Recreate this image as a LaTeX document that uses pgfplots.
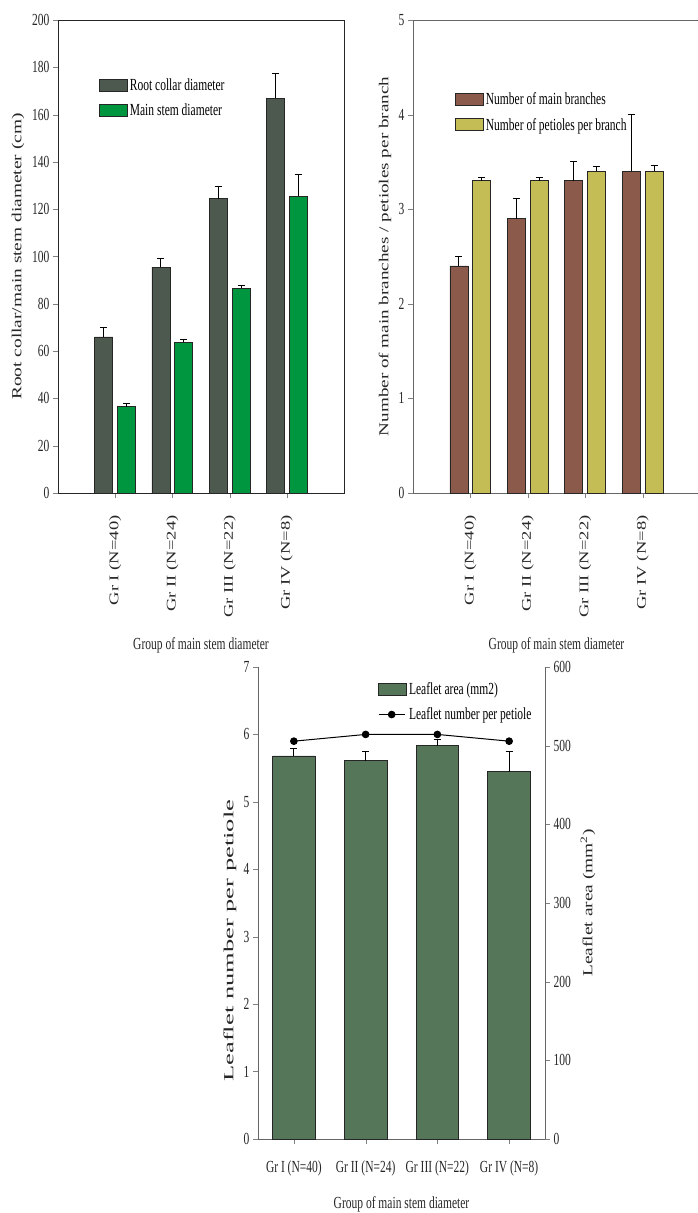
\documentclass[border=0pt]{standalone}
\usepackage{fontspec}
\setmainfont{Liberation Serif}[FakeStretch=0.68]
\newfontfamily\rotfont{Liberation Serif}[FakeStretch=1.4]
\newfontfamily\rotwidefont{Liberation Serif}[FakeStretch=1.9]
\usepackage{pgfplots}
\pgfplotsset{compat=1.18}
\definecolor{cdark}{HTML}{4D594E}
\definecolor{cgreen}{HTML}{009640}
\definecolor{cbrown}{HTML}{8B5A4A}
\definecolor{colive}{HTML}{C4BD55}
\definecolor{cbot}{HTML}{56765A}
\newcommand\mfs{\fontsize{17}{19}\selectfont}
\pgfplotsset{
  mybox/.style={legend image code/.code={\draw[##1] (0bp,-6bp) rectangle (28bp,6bp);}},
  myline/.style={legend image code/.code={\draw[mark repeat=2,mark phase=2,##1] plot coordinates {(0bp,0bp) (13bp,0bp) (26bp,0bp)};}},
  myerr/.style={error bars/y dir=plus, error bars/y explicit,
    error bars/error bar style={line width=1bp, black},
    error bars/error mark options={rotate=90, black, mark size=3.5bp, line width=1bp}},
  mybar/.style={ybar, bar width=18bp, bar shift=0bp, draw=black!85, line width=0.8bp, mybox, myerr},
  common/.style={scale only axis, tick align=outside, major tick length=5bp,
    xtick pos=bottom, ytick pos=left,
    /pgf/number format/assume math mode=true,
    ticklabel style={font=\mfs, text=black!85},
    xtick={0,1,2,3},
    xticklabels={Gr I (N=40),Gr II (N=24),Gr III (N=22),Gr IV (N=8)},
    legend cell align=left,
    label style={text=black!85},
  },
  toprow/.style={common, width=286bp, height=473bp, xmin=-1, xmax=4, ymin=0,
    xticklabel style={rotate=90, anchor=east, font=\rotfont\fontsize{13.3}{15}\selectfont},
    xticklabel shift=14bp,
    xlabel={Group of main stem diameter},
    xlabel style={at={(axis description cs:0.5,-0.323)}, anchor=center, font=\mfs},
    legend style={draw=none, fill=none, font=\mfs, row sep=8bp, inner sep=0pt,
      anchor=north west, cells={anchor=west}},
  },
}
\begin{document}
\begin{tikzpicture}
% ---------- top left ----------
\begin{axis}[toprow, at={(58bp,-20bp)}, anchor=north west,
  ymax=200, ytick={0,20,...,200},
  axis line style={black!85, line width=1bp},
  ylabel={Root collar/main stem diameter (cm)},
  ylabel style={at={(axis description cs:-0.14,0.5)}, anchor=center, font=\rotfont\fontsize{13.9}{15}\selectfont},
  legend style={at={(axis description cs:0.143,0.881)}},
]
\addplot[mybar, fill=cdark] coordinates {
 (-0.2,66) +- (0,4) (0.8,95.5) +- (0,3.5) (1.8,124.5) +- (0,5) (2.8,167) +- (0,10.5)};
\addlegendentry{Root collar diameter}
\addplot[mybar, fill=cgreen] coordinates {
 (0.2,36.5) +- (0,1.5) (1.2,63.7) +- (0,1.3) (2.2,86.5) +- (0,1.3) (3.2,125.5) +- (0,9)};
\addlegendentry{Main stem diameter}
\end{axis}
% ---------- top right ----------
\begin{axis}[toprow, at={(413bp,-20bp)}, anchor=north west, width=287bp,
  ymax=5, ytick={0,1,...,5},
  axis line style={black!60, line width=1bp},
  ylabel={Number of main branches / petioles per branch},
  ylabel style={at={(axis description cs:-0.0976,0.5)}, anchor=center, font=\rotfont\fontsize{13.7}{15}\selectfont},
  legend style={at={(axis description cs:0.146,0.851)}},
]
\addplot[mybar, fill=cbrown] coordinates {
 (-0.2,2.4) +- (0,0.1) (0.8,2.9) +- (0,0.21) (1.8,3.3) +- (0,0.2) (2.8,3.4) +- (0,0.6)};
\addlegendentry{Number of main branches}
\addplot[mybar, fill=colive] coordinates {
 (0.2,3.3) +- (0,0.03) (1.2,3.3) +- (0,0.03) (2.2,3.4) +- (0,0.05) (3.2,3.4) +- (0,0.06)};
\addlegendentry{Number of petioles per branch}
\end{axis}
% ---------- bottom: bars on right axis ----------
\begin{axis}[common, at={(258bp,-667bp)}, anchor=north west, width=287bp, height=472bp,
  xmin=-0.5, xmax=3.5, ymin=0, ymax=600, ytick={0,100,...,600},
  axis y line*=right, axis x line*=bottom, ytick pos=right,
  axis line style={black!60, line width=1bp, -},
  xticklabel shift=13bp,
  xlabel={Group of main stem diameter},
  xlabel style={at={(axis description cs:0.5,-0.138)}, anchor=center, font=\mfs},
  ylabel={Leaflet area (mm\textsuperscript{2})},
  ylabel style={at={(axis description cs:1.15,0.5)}, anchor=center, font=\rotfont\fontsize{13.9}{15}\selectfont},
]
\addplot[ybar, bar width=42.6bp, bar shift=0bp, fill=cbot, draw=black!85, line width=0.8bp, myerr] coordinates {
 (0,487) +- (0,9) (1,481) +- (0,11) (2,500) +- (0,8) (3,467) +- (0,26)};
\end{axis}
% ---------- bottom: line on left axis ----------
\begin{axis}[common, at={(258bp,-667bp)}, anchor=north west, width=287bp, height=472bp,
  xmin=-0.5, xmax=3.5, ymin=0, ymax=7, ytick={0,1,...,7},
  axis y line*=left, axis x line=none,
  axis line style={black!60, line width=1bp, -},
  ylabel={Leaflet number per petiole},
  ylabel style={at={(axis description cs:-0.098,0.42)}, anchor=center, font=\rotwidefont\fontsize{14}{15}\selectfont},
  legend style={draw=none, fill=none, font=\mfs, row sep=8bp, inner sep=0pt,
    anchor=north west, cells={anchor=west}, at={(axis description cs:0.418,0.972)}},
]
\addlegendimage{mybox, fill=cbot, draw=black!85, line width=0.8bp}
\addlegendentry{Leaflet area (mm2)}
\addplot[black, line width=1bp, mark=*, mark size=3.3bp, myline] coordinates {
 (0,5.9) (1,6.0) (2,6.0) (3,5.9)};
\addlegendentry{Leaflet number per petiole}
\end{axis}
\pgfresetboundingbox
\path[use as bounding box] (0bp,0bp) rectangle (698bp,-1213bp);
\end{tikzpicture}
\end{document}
